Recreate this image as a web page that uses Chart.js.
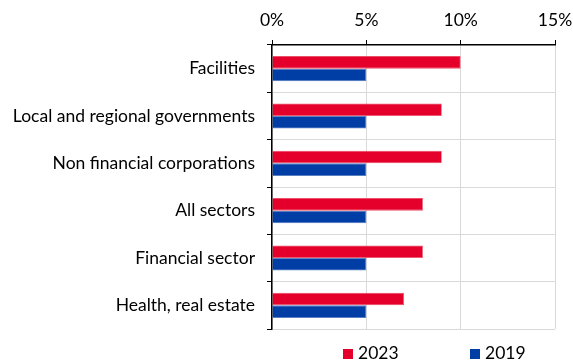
<!DOCTYPE html>
<html>
<head>
<meta charset="utf-8">
<script src="https://cdn.jsdelivr.net/npm/chart.js@4"></script>
<style>
  html, body { margin: 0; padding: 0; background: #fff; overflow: hidden; }
  #wrap { position: relative; width: 573px; height: 360px; }
  #legend { position: absolute; left: 0; top: 342px; width: 573px; height: 18px; font-family: Lato, "Open Sans", sans-serif; font-size: 17.5px; color: #000; }
  #legend .item { position: absolute; top: 0; line-height: 21px; white-space: nowrap; }
  #legend .box { display: inline-block; width: 10px; height: 10px; margin-right: 5px; vertical-align: 0px; }
</style>
</head>
<body>
<div id="wrap">
  <canvas id="chart" width="573" height="360"></canvas>
  <div id="legend"></div>
</div>
<script>
// categories, top to bottom
const categories = [
  'Facilities',
  'Local and regional governments',
  'Non financial corporations',
  'All sectors',
  'Financial sector',
  'Health, real estate',
];
const values2023 = [10, 9, 9, 8, 8, 7];
const values2019 = [5, 5, 5, 5, 5, 5];
const xTicks = [0, 5, 10, 15];

const FONT = 'Lato, "Open Sans", sans-serif';
const GRID = '#d9d9d9';

const datasets = [
  { label: '2023', data: values2023, backgroundColor: '#E4002B', borderColor: '#ec4f68', borderWidth: 0.8 },
  { label: '2019', data: values2019, backgroundColor: '#003DA5', borderColor: '#5a7fc0', borderWidth: 0.8 },
];

const chart = new Chart(document.getElementById('chart'), {
  type: 'bar',
  data: { labels: categories, datasets: datasets },
  options: {
    indexAxis: 'y',
    responsive: false,
    animation: false,
    layout: { padding: { top: 0, right: 18, bottom: 31, left: 0 } },
    datasets: { bar: { categoryPercentage: 0.53, barPercentage: 1 } },
    plugins: { legend: { display: false }, tooltip: { enabled: false } },
    scales: {
      x: {
        position: 'top',
        min: 0,
        max: 15,
        afterBuildTicks: (axis) => { axis.ticks = xTicks.map(v => ({ value: v })); },
        afterFit: (axis) => { axis.height = 45; axis.paddingLeft = 0; axis.paddingRight = 0; },
        ticks: { color: '#000', font: { family: FONT, size: 17.5 }, padding: 9, callback: v => v + '%' },
        grid: { color: GRID, tickColor: '#000', tickLength: 5, lineWidth: 1 },
        border: { color: '#000', width: 1.5 },
      },
      y: {
        afterFit: (axis) => { axis.width = 272; },
        ticks: { color: '#000', font: { family: FONT, size: 17.5 }, padding: 12 },
        grid: { color: GRID, tickColor: '#000', tickLength: 5, lineWidth: 1 },
        border: { color: '#000', width: 1.5 },
      },
    },
  },
});

// legend under the plot
const legend = document.getElementById('legend');
const legendX = [343, 470];
datasets.forEach((d, i) => {
  const el = document.createElement('span');
  el.className = 'item';
  el.style.left = legendX[i] + 'px';
  el.innerHTML = `<span class="box" style="background:${d.backgroundColor}"></span>${d.label}`;
  legend.appendChild(el);
});
</script>
</body>
</html>
